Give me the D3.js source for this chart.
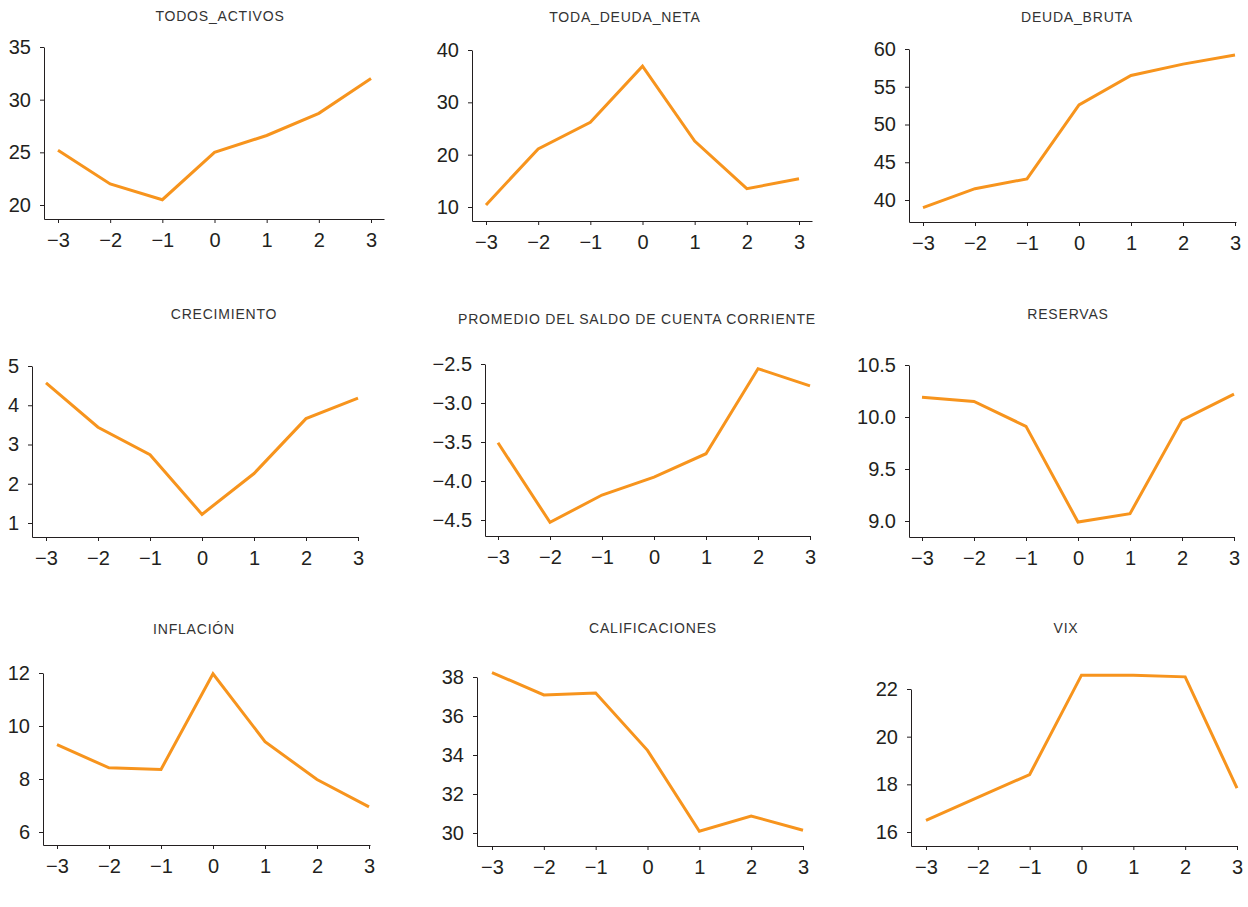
<!DOCTYPE html>
<html>
<head>
<meta charset="utf-8">
<script src="https://cdn.jsdelivr.net/npm/d3@7"></script>
<style>
    body { margin: 0; background: #fff; }
    .title { font-family: "Liberation Sans", Arial, sans-serif; font-size: 14px; letter-spacing: 0.8px; fill: #333; }
    .axis text { font-family: "Liberation Sans", Arial, sans-serif; font-size: 20px; fill: #231f20; }
    .axis path, .axis line { stroke: #231f20; stroke-width: 1; }
</style>
</head>
<body>
<div id="wide"></div>
<script>
// event window (years around the episode)
const periods = [-3, -2, -1, 0, 1, 2, 3];

const titles = ["TODOS_ACTIVOS", "TODA_DEUDA_NETA", "DEUDA_BRUTA",
    "CRECIMIENTO", "PROMEDIO DEL SALDO DE CUENTA CORRIENTE", "RESERVAS",
    "INFLACIÓN", "CALIFICACIONES", "VIX"];

const todosActivos = [25.2, 22.0, 20.5, 25.0, 26.6, 28.7, 32.0];
const todaDeudaNeta = [10.4, 21.1, 26.2, 36.9, 22.6, 13.5, 15.4];
const deudaBruta = [39.0, 41.5, 42.8, 52.6, 56.5, 58.0, 59.2];
const crecimiento = [4.57, 3.44, 2.74, 1.22, 2.26, 3.66, 4.18];
const saldoCuenta = [-3.51, -4.53, -4.18, -3.95, -3.65, -2.56, -2.78];
const reservas = [10.19, 10.15, 9.91, 8.99, 9.07, 9.97, 10.22];
const inflacion = [9.30, 8.42, 8.36, 11.97, 9.41, 7.98, 6.95];
const calificaciones = [38.23, 37.08, 37.18, 34.24, 30.09, 30.87, 30.14];
const vix = [16.49, 17.45, 18.41, 22.58, 22.58, 22.51, 17.84];

const series = [todosActivos, todaDeudaNeta, deudaBruta, crecimiento, saldoCuenta,
    reservas, inflacion, calificaciones, vix];

const yTicks = [
    [20, 25, 30, 35],
    [10, 20, 30, 40],
    [40, 45, 50, 55, 60],
    [1, 2, 3, 4, 5],
    [-4.5, -4.0, -3.5, -3.0, -2.5],
    [9.0, 9.5, 10.0, 10.5],
    [6, 8, 10, 12],
    [30, 32, 34, 36, 38],
    [16, 18, 20, 22]
];
const yFormats = ["d", "d", "d", "d", ".1f", ".1f", "d", "d", "d"];

// layout: y axis x, x pos of -3 / 3 ticks, x axis end, x axis y,
// pixel of lowest / highest y tick, title centre and baseline
const layout = [
    { ax: 44, x0: 58, x1: 371, xe: 384, ay: 219, yl: 205, yh: 47, tx: 220, ty: 21 },
    { ax: 472, x0: 486, x1: 799, xe: 812, ay: 221, yl: 207, yh: 50, tx: 625, ty: 22 },
    { ax: 909, x0: 923, x1: 1235, xe: 1236, ay: 222, yl: 200, yh: 49, tx: 1077, ty: 22 },
    { ax: 32, x0: 46, x1: 358, xe: 358, ay: 537, yl: 523, yh: 366, tx: 224, ty: 319 },
    { ax: 485, x0: 498, x1: 810, xe: 810, ay: 536, yl: 520, yh: 364, tx: 637, ty: 324 },
    { ax: 909, x0: 922, x1: 1234, xe: 1234, ay: 537, yl: 521, yh: 365, tx: 1068, ty: 319 },
    { ax: 43, x0: 57, x1: 369, xe: 370, ay: 845, yl: 832, yh: 673, tx: 194, ty: 634 },
    { ax: 477, x0: 492, x1: 803, xe: 803, ay: 846, yl: 833, yh: 677, tx: 653, ty: 633 },
    { ax: 911, x0: 926, x1: 1237, xe: 1237, ay: 846, yl: 832, yh: 689, tx: 1066, ty: 633 }
];

const ORANGE = "#F7941D";

let svg = d3.select("#wide")
    .append("svg")
    .attr("width", 1248)
    .attr("height", 907);

series.forEach((values, i) => {
    const L = layout[i];
    const ticks = yTicks[i];

    let x = d3.scaleLinear().domain([-3, 3]).range([L.x0, L.x1]);
    x.domain([x.invert(L.ax), x.invert(L.xe)]).range([L.ax, L.xe]);

    let y = d3.scaleLinear()
        .domain([ticks[0], ticks[ticks.length - 1]])
        .range([L.yl, L.yh]);
    y.domain([y.invert(L.ay), ticks[ticks.length - 1]]).range([L.ay, L.yh]);

    let g = svg.append("g").attr("class", "panel");

    g.append("text")
        .attr("class", "title")
        .attr("x", L.tx)
        .attr("y", L.ty)
        .attr("text-anchor", "middle")
        .text(titles[i]);

    g.append("g")
        .attr("class", "axis")
        .attr("transform", `translate(0,${L.ay})`)
        .call(d3.axisBottom(x)
            .tickValues(periods)
            .tickFormat(d3.format("d"))
            .tickSizeInner(4)
            .tickSizeOuter(0)
            .tickPadding(10))
        .attr("font-size", null)
        .attr("font-family", null);

    g.append("g")
        .attr("class", "axis")
        .attr("transform", `translate(${L.ax},0)`)
        .call(d3.axisLeft(y)
            .tickValues(ticks)
            .tickFormat(d3.format(yFormats[i]))
            .tickSizeInner(4)
            .tickSizeOuter(0)
            .tickPadding(9))
        .attr("font-size", null)
        .attr("font-family", null);

    const line = d3.line()
        .x((d, j) => x(periods[j]))
        .y(d => y(d));

    g.append("path")
        .datum(values)
        .attr("d", line)
        .attr("fill", "none")
        .attr("stroke", ORANGE)
        .attr("stroke-width", 3)
        .attr("stroke-linejoin", "miter");
});
</script>
</body>
</html>
